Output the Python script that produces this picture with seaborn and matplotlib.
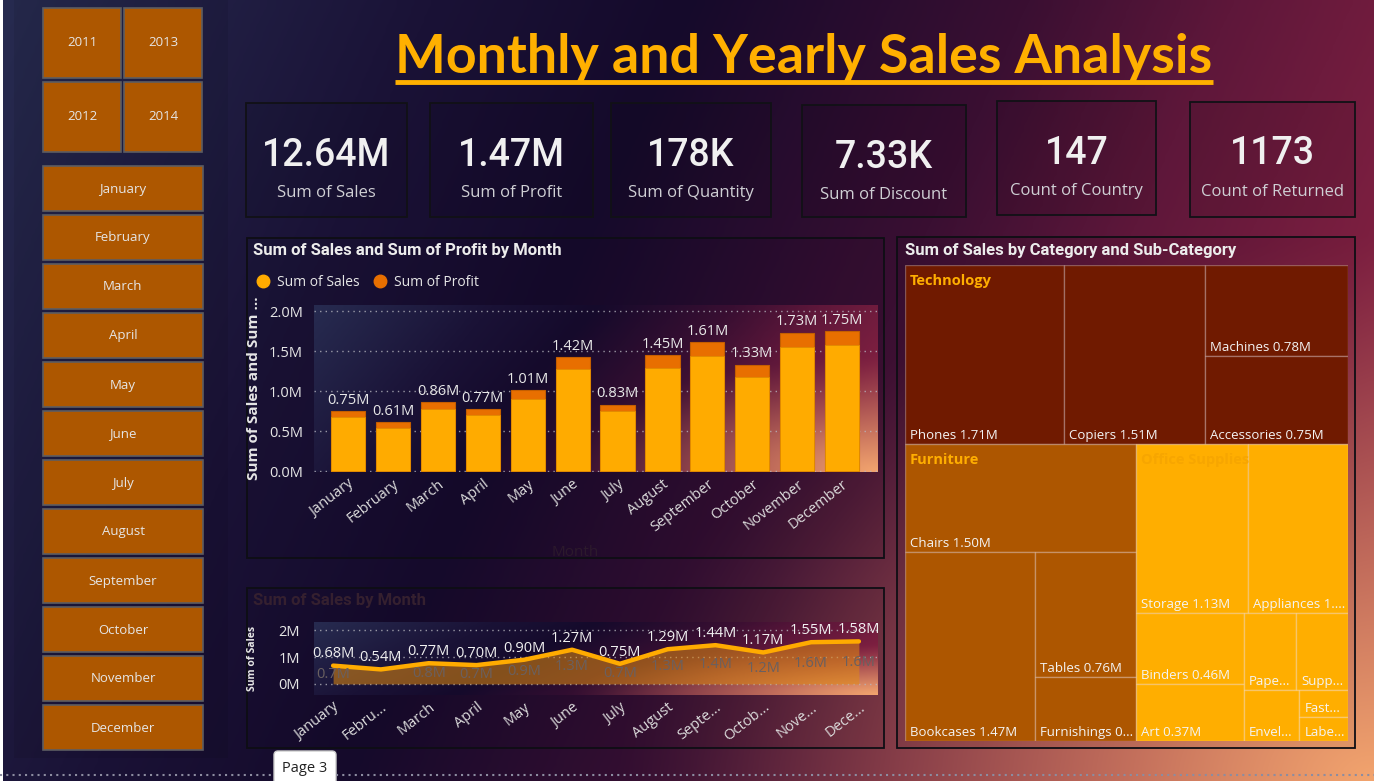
import numpy as np
import pandas as pd
import matplotlib
matplotlib.use("Agg")
import matplotlib.pyplot as plt
import matplotlib.colors as mcolors
from matplotlib.patches import Rectangle, FancyBboxPatch
from matplotlib.lines import Line2D
import seaborn as sns

# ---------------- data ----------------
months = ["January", "February", "March", "April", "May", "June", "July",
          "August", "September", "October", "November", "December"]
month_ticks_short = ["January", "Febru...", "March", "April", "May", "June", "July",
                     "August", "Septe...", "Octob...", "Nove...", "Dece..."]
sales_m = [0.68, 0.54, 0.77, 0.70, 0.90, 1.27, 0.749, 1.29, 1.44, 1.17, 1.55, 1.58]
profit_m = [0.07, 0.07, 0.09, 0.07, 0.11, 0.15, 0.08, 0.16, 0.17, 0.16, 0.18, 0.17]

years = ["2011", "2012", "2013", "2014"]

kpi_values = ["12.64M", "1.47M", "178K", "7.33K", "147", "1173"]
kpi_labels = ["Sum of Sales", "Sum of Profit", "Sum of Quantity",
              "Sum of Discount", "Count of Country", "Count of Returned"]

categories = ["Technology", "Furniture", "Office Supplies"]
tech_names = ["Phones", "Copiers", "Machines", "Accessories"]
tech_sales = [1.71, 1.51, 0.78, 0.75]
furn_names = ["Chairs", "Bookcases", "Tables", "Furnishings"]
furn_sales = [1.50, 1.47, 0.76, 0.39]
office_names = ["Storage", "Appliances", "Binders", "Art", "Paper", "Supplies",
                "Envelopes", "Fasteners", "Labels"]
office_sales = [1.13, 1.01, 0.46, 0.37, 0.24, 0.24, 0.17, 0.08, 0.07]

# ---------------- style ----------------
SALES_C = "#FFAB00"
PROFIT_C = "#E86F00"
BTN_C = "#AD5700"
CAT_COLORS = ["#701A00", "#AD5600", "#FFAE00"]
TXT = "#e6e6e6"

sns.set_theme(style="white")
plt.rcParams["font.family"] = ["Open Sans", "DejaVu Sans"]

W, H = 1374, 781
fig = plt.figure(figsize=(W / 100, H / 100), dpi=100)
renderer = fig.canvas.get_renderer()

page_cmap = mcolors.LinearSegmentedColormap.from_list(
    "page", [(0.0, "#272b50"), (0.25, "#1a1236"), (0.4, "#150a2b"),
             (0.6, "#3a0f32"), (0.72, "#5e173a"), (0.86, "#7c1f40"),
             (1.0, "#9a3a4c")])


def gradient(nx, ny):
    yy, xx = np.mgrid[0:1:ny * 1j, 0:1:nx * 1j]
    s = np.clip(0.8 * xx + 0.2 * yy, 0, 1)
    base = page_cmap(s)[..., :3]
    d = np.sqrt(((1 - xx) / 0.55) ** 2 + ((1 - yy) / 0.7) ** 2)
    w = np.clip(1 - d, 0, 1) ** 1.3
    peach = np.array(mcolors.to_rgb("#f2a46e"))
    return base * (1 - w[..., None]) + peach * w[..., None]


def fig_axes(l, t, r, b):
    return fig.add_axes([l / W, 1 - b / H, (r - l) / W, (b - t) / H])


# background layer in pixel coordinates
bg = fig.add_axes([0, 0, 1, 1])
bg.imshow(gradient(400, 230), extent=[0, W, H, 0], aspect="auto",
          interpolation="bicubic", zorder=0)
bg.set_xlim(0, W)
bg.set_ylim(H, 0)
bg.axis("off")
bg.add_patch(Rectangle((0, 0), 3, H, fc="white", ec="none"))
bg.add_patch(Rectangle((14, 0), 214, 758, fc="black", alpha=0.07, ec="none"))

# slicers
for i, yr in enumerate(years):
    col, row = divmod(i, 2)
    x, y = 43 + col * 81, 8 + row * 74
    bg.add_patch(Rectangle((x, y), 78, 70, fc=BTN_C, ec="#5d5d62", lw=1.2))
    bg.text(x + 39, y + 35, yr, ha="center", va="center", color=TXT, fontsize=9.5)
for i, m in enumerate(months):
    y = 166 + 49 * i
    bg.add_patch(Rectangle((43, y), 160, 45, fc=BTN_C, ec="#5d5d62", lw=1.2))
    bg.text(123, y + 23, m, ha="center", va="center", color=TXT, fontsize=9.5)

# title with underline
title = bg.text(804, 57, "Monthly and Yearly Sales Analysis", ha="center", va="center",
                color="#FFB000", fontsize=36, fontweight="bold",
                family=["Lato", "Open Sans", "DejaVu Sans"])
tw = title.get_window_extent(renderer).width
title.set_fontsize(36 * 817 / tw)
tb = title.get_window_extent(renderer)
bg.plot([tb.x0, tb.x1], [82, 82], color="#FFB000", lw=3.5, solid_capstyle="butt")

# KPI cards
card_x = [246, 430, 611, 802, 997, 1190]
card_w = [161, 163, 160, 164, 159, 165]
card_y = [103, 103, 103, 105, 101, 102]
card_h = [114, 114, 114, 112, 114, 115]
for i in range(len(kpi_values)):
    x, y, w, h = card_x[i], card_y[i], card_w[i], card_h[i]
    bg.add_patch(Rectangle((x, y), w, h, fc=(0, 0, 0, 0.08), ec="#111116", lw=1.3))
    bg.text(x + w / 2, y + 52, kpi_values[i], ha="center", va="center", color="#f0f0f0",
            fontsize=27, fontweight="medium", family=["Roboto", "DejaVu Sans"])
    bg.text(x + w / 2, y + 90, kpi_labels[i], ha="center", va="center", color="#cfcfd4",
            fontsize=12)

# panels
for (l, t, r, b) in [(247, 238, 884, 558), (247, 588, 884, 748), (897, 237, 1355, 748)]:
    bg.add_patch(Rectangle((l, t), r - l, b - t, fc=(0, 0, 0, 0.04), ec="#0e0e14", lw=1.3))
bg.text(253, 250, "Sum of Sales and Sum of Profit by Month", va="center", color="#ececec",
        fontsize=12, fontweight="bold", family=["Roboto", "DejaVu Sans"])
bg.text(253, 600, "Sum of Sales by Month", va="center", color="#35202f",
        fontsize=12, fontweight="bold", family=["Roboto", "DejaVu Sans"])
bg.text(905, 250, "Sum of Sales by Category and Sub-Category", va="center", color="#ececec",
        fontsize=12, fontweight="bold", family=["Roboto", "DejaVu Sans"])

# page tab
bg.plot([0, 274], [775, 775], ls=(0, (1, 2)), color="#8c8ca0", lw=1.5)
bg.plot([336, W], [775, 775], ls=(0, (1, 2)), color="#8c8ca0", lw=1.5)
bg.add_patch(FancyBboxPatch((274, 751), 62, 40, boxstyle="round,pad=0,rounding_size=4",
                            fc="white", ec="#cccccc", lw=1))
bg.text(305, 769, "Page 3", ha="center", va="center", color="#222222", fontsize=10.5)

# ---------------- stacked bar chart ----------------
df = pd.DataFrame({"Month": months, "Sales": sales_m, "Profit": profit_m})
df["Total"] = df["Sales"] + df["Profit"]

ax1 = fig_axes(314, 305, 878, 472)
x_lo, x_hi, y_lo, y_hi = -0.76, 11.8, -0.0125, 2.075
ax1.imshow(gradient(200, 80), extent=[x_lo, x_hi, y_lo, y_hi], aspect="auto",
           interpolation="bicubic", zorder=0)
sns.barplot(data=df, x="Month", y="Total", color=PROFIT_C, width=0.76, saturation=1,
            edgecolor="#C45E00", linewidth=0.8, ax=ax1, zorder=2)
sns.barplot(data=df, x="Month", y="Sales", color=SALES_C, width=0.76, saturation=1,
            edgecolor="#E08A00", linewidth=0.6, ax=ax1, zorder=3)
for i, t in enumerate(df["Total"]):
    ax1.annotate(f"{t:.2f}M", (i, t), xytext=(0, 2.5), textcoords="offset points",
                 ha="center", va="bottom", color="#e8e8e8", fontsize=10.5)
ax1.set_xlim(x_lo, x_hi)
ax1.set_ylim(y_lo, y_hi)
ax1.set_yticks([0, 0.5, 1.0, 1.5, 2.0])
ax1.set_yticklabels([f"{v:.1f}M" for v in [0, 0.5, 1.0, 1.5, 2.0]])
ax1.grid(axis="y", ls=(0, (1, 3)), color="#b8b8c0", lw=1, alpha=0.8)
ax1.set_axisbelow(True)
ax1.tick_params(length=0, colors=TXT, labelsize=10.5)
ax1.tick_params(axis="y", pad=8)
ax1.set_xticks(range(12))
ax1.set_xticklabels(months, rotation=38, ha="right", rotation_mode="anchor", color="#dcdcdc")
ax1.set_ylabel("Sum of Sales and Sum ...", color=TXT, fontsize=11, fontweight="bold")
ax1.yaxis.set_label_coords(-0.094, 0.5)
ax1.set_xlabel("Month", color="#2c1a2c", fontsize=11)
ax1.xaxis.set_label_coords(0.463, -0.44)
for s in ax1.spines.values():
    s.set_visible(False)
ax1.legend(handles=[Line2D([], [], marker="o", ls="", color=SALES_C, markersize=9, label="Sum of Sales"),
                    Line2D([], [], marker="o", ls="", color=PROFIT_C, markersize=9, label="Sum of Profit")],
           loc="center left", bbox_to_anchor=(249 / W, 1 - 282 / H), bbox_transform=fig.transFigure,
           frameon=False, ncol=2, handletextpad=0.05, columnspacing=0.4, fontsize=10,
           labelcolor=TXT, borderpad=0, borderaxespad=0)

# ---------------- line / area chart ----------------
ax2 = fig_axes(314, 622, 878, 695)
idx = np.arange(len(months))
l_lo, l_hi, ly_lo, ly_hi = -0.4, 11.4, -0.41, 2.30
ax2.imshow(gradient(200, 40), extent=[l_lo, l_hi, ly_lo, ly_hi], aspect="auto",
           interpolation="bicubic", zorder=0)
ax2.fill_between(idx, sales_m, color="#E08A10", alpha=0.55, lw=0, zorder=1.5)
sns.lineplot(x=idx, y=sales_m, color=SALES_C, lw=3.2, ax=ax2, zorder=3)
for i, v in enumerate(sales_m):
    ax2.annotate(f"{v:.2f}M", (i, v), xytext=(0, 3), textcoords="offset points",
                 ha="center", va="bottom", color="#f0f0f0", fontsize=10.5, zorder=4)
    if i != 1:  # Power BI hides the February inside label
        ax2.text(i, v / 2, f"{v:.1f}M", ha="center", va="center", color="#6a6060",
                 fontsize=10.5, zorder=4)
ax2.set_xlim(l_lo, l_hi)
ax2.set_ylim(ly_lo, ly_hi)
ax2.set_yticks([0, 1, 2])
ax2.set_yticklabels(["0M", "1M", "2M"])
ax2.grid(axis="y", ls=(0, (1, 3)), color="#b8b8c0", lw=1, alpha=0.8)
ax2.set_axisbelow(True)
ax2.tick_params(length=0, colors=TXT, labelsize=10.5)
ax2.tick_params(axis="y", pad=10)
ax2.set_xticks(idx)
ax2.set_xticklabels(month_ticks_short, rotation=38, ha="right", rotation_mode="anchor",
                    color="#dcdcdc")
ax2.set_ylabel("Sum of Sales", color=TXT, fontsize=7.5, fontweight="bold")
ax2.yaxis.set_label_coords(-0.099, 0.5)
for s in ax2.spines.values():
    s.set_visible(False)


# ---------------- treemap (binary split layout) ----------------
def binary_layout(values, x0, y0, x1, y1):
    sums = np.concatenate([[0.0], np.cumsum(values)])
    rects = [None] * len(values)

    def part(i, j, value, x0, y0, x1, y1):
        if i >= j - 1:
            rects[i] = (x0, y0, x1, y1)
            return
        target = sums[i] + value / 2
        k, hi = i + 1, j - 1
        while k < hi:
            mid = (k + hi) // 2
            if sums[mid] < target:
                k = mid + 1
            else:
                hi = mid
        if target - sums[k - 1] < sums[k] - target and i + 1 < k:
            k -= 1
        left = sums[k] - sums[i]
        right = value - left
        if x1 - x0 > y1 - y0:
            xk = (x0 * right + x1 * left) / value
            part(i, k, left, x0, y0, xk, y1)
            part(k, j, right, xk, y0, x1, y1)
        else:
            yk = (y0 * right + y1 * left) / value
            part(i, k, left, x0, y0, x1, yk)
            part(k, j, right, x0, yk, x1, y1)

    part(0, len(values), sums[-1], x0, y0, x1, y1)
    return rects


def fit_text(ax, x, y, label, max_w, **kw):
    t = ax.text(x, y, label, **kw)
    s = label
    while t.get_window_extent(renderer).width > max_w and len(s) > 1:
        s = s[:-1]
        t.set_text(s.rstrip() + "...")
    return t


ax3 = fig_axes(905, 265, 1348, 741)
TW, TH = 1348 - 905, 741 - 265
ax3.set_xlim(0, TW)
ax3.set_ylim(TH, 0)
ax3.axis("off")

groups = [(tech_names, tech_sales), (furn_names, furn_sales), (office_names, office_sales)]
cat_rects = binary_layout([sum(v) for _, v in groups], 0, 0, TW, TH)
for c, (cat, (names, vals), crect) in enumerate(zip(categories, groups, cat_rects)):
    sub_rects = binary_layout(vals, *crect)
    for name, v, (x0, y0, x1, y1) in zip(names, vals, sub_rects):
        ax3.add_patch(Rectangle((x0, y0), x1 - x0, y1 - y0, fc=CAT_COLORS[c],
                                ec=(1, 1, 1, 0.28), lw=1))
        fit_text(ax3, x0 + 5, y1 - 5, f"{name} {v:.2f}M", (x1 - x0) - 7,
                 ha="left", va="baseline", color="#f4f4f4", fontsize=9.5)
    head_c = "#F7A600" if c == 2 else "#FFAE00"
    ax3.text(crect[0] + 5, crect[1] + 16, cat, ha="left", va="center", color=head_c,
             fontsize=10.5, fontweight="bold")

fig.savefig("out.png", dpi=100)
